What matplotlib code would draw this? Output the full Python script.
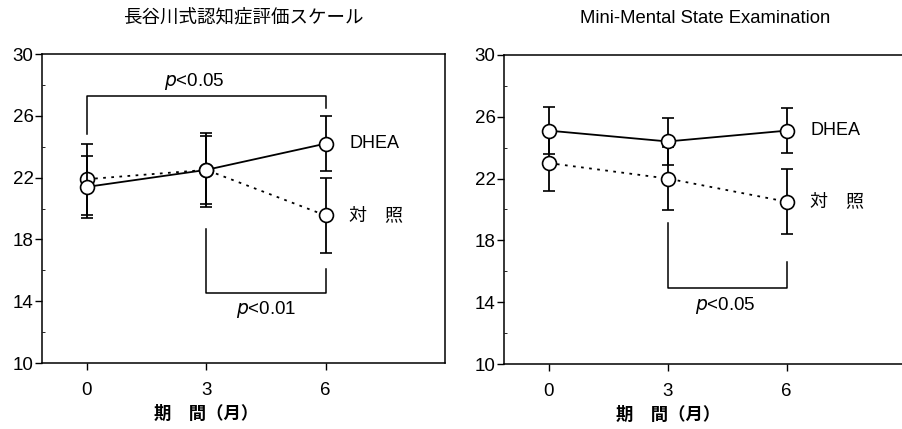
import numpy as np
import matplotlib
matplotlib.use("Agg")
import matplotlib.pyplot as plt
from matplotlib.ticker import MultipleLocator

plt.rcParams['font.family'] = ['Liberation Sans', 'Noto Sans CJK JP']

months = [0, 3, 6]

# 長谷川式認知症評価スケール
hds_dhea = [21.4, 22.5, 24.2]
hds_dhea_err = [2.0, 2.2, 1.8]
hds_ctrl = [21.9, 22.5, 19.55]
hds_ctrl_err = [2.3, 2.4, 2.4]

# Mini-Mental State Examination
mmse_dhea = [25.1, 24.4, 25.1]
mmse_dhea_err = [1.5, 1.5, 1.45]
mmse_ctrl = [23.0, 22.0, 20.5]
mmse_ctrl_err = [1.8, 2.05, 2.1]

titles = ["長谷川式認知症評価スケール", "Mini-Mental State Examination"]
xlabel = "期　間（月）"

fig = plt.figure(figsize=(9.02, 4.29), dpi=100)
ax1 = fig.add_axes([0.0466, 0.1538, 0.4467, 0.7203])
ax2 = fig.add_axes([0.5588, 0.1515, 0.4451, 0.7205])


def panel(ax, dhea, dhea_err, ctrl, ctrl_err, title):
    ax.errorbar(months, ctrl, yerr=ctrl_err, color="black", lw=1.3,
                ls=(0, (1.5, 3)), marker="o", ms=10, mfc="white", mec="black",
                mew=1.2, capsize=4, elinewidth=1.3, capthick=1.3, zorder=3)
    ax.errorbar(months, dhea, yerr=dhea_err, color="black", lw=1.3,
                ls="-", marker="o", ms=10, mfc="white", mec="black",
                mew=1.2, capsize=4, elinewidth=1.3, capthick=1.3, zorder=4)
    ax.set_xlim(-1.13, 9.0)
    ax.set_ylim(10, 30)
    ax.set_xticks(months)
    ax.set_yticks([10, 14, 18, 22, 26, 30])
    ax.yaxis.set_minor_locator(MultipleLocator(2))
    ax.tick_params(axis="both", which="major", direction="out", length=5,
                   width=1, labelsize=13.5)
    ax.tick_params(axis="x", which="major", pad=9)
    ax.tick_params(axis="y", which="major", pad=1)
    ax.tick_params(axis="y", which="minor", direction="in", length=2)
    for s in ax.spines.values():
        s.set_linewidth(1.1)
    ax.text(0.5, 1.117, title, transform=ax.transAxes, ha="center",
            va="center", fontsize=13.3)
    ax.text(3, 6.76, xlabel, ha="center", va="center", fontsize=12.5,
            fontweight="bold")
    ax.text(6.6, dhea[2], "DHEA", ha="left", va="center", fontsize=13)
    ax.text(6.6, ctrl[2], "対　照", ha="left", va="center", fontsize=13)


panel(ax1, hds_dhea, hds_dhea_err, hds_ctrl, hds_ctrl_err, titles[0])
panel(ax2, mmse_dhea, mmse_dhea_err, mmse_ctrl, mmse_ctrl_err, titles[1])

# significance brackets
ax1.plot([0, 0, 6, 6], [24.8, 27.3, 27.3, 26.5], color="black", lw=1.1)
ax1.text(2.7, 28.25, "$\\it{p}$<0.05", ha="center", va="center", fontsize=13.5)
ax1.plot([3, 3, 6, 6], [18.7, 14.55, 14.55, 16.1], color="black", lw=1.1)
ax1.text(4.5, 13.45, "$\\it{p}$<0.01", ha="center", va="center", fontsize=13.5)

ax2.plot([3, 3, 6, 6], [19.1, 14.9, 14.9, 16.6], color="black", lw=1.1)
ax2.text(4.45, 13.8, "$\\it{p}$<0.05", ha="center", va="center", fontsize=13.5)

fig.savefig("out.png", dpi=100)
